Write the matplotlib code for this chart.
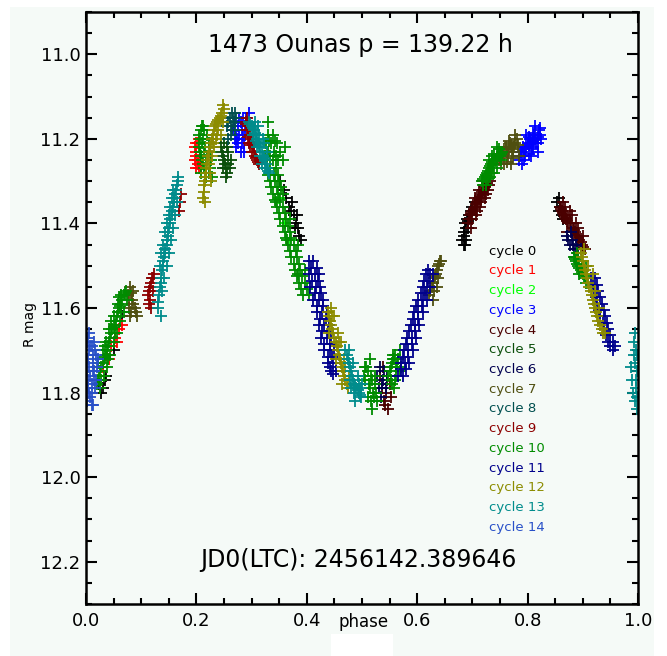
import matplotlib
matplotlib.use("Agg")
import matplotlib.pyplot as plt
from matplotlib.patches import Rectangle
from matplotlib.ticker import MultipleLocator

plt.rcParams["font.family"] = "DejaVu Sans"

title = "1473 Ounas p = 139.22 h"
epoch_text = "JD0(LTC): 2456142.389646"
cycle_labels = ["cycle %d" % i for i in range(15)]
cycle_colors = ["#000000", "#ff0000", "#00ff00", "#0000ff", "#4b0000",
                "#0b4f0b", "#000050", "#4f4f10", "#004f4f", "#8c0000",
                "#008c00", "#00008c", "#8c8c00", "#008c8c", "#2850c8"]

# (phase, R mag), one list per cycle
cycle0 = [(0.024, 11.78), (0.030, 11.79), (0.034, 11.77), (0.028, 11.80), (0.036, 11.76),
          (0.050, 11.70), (0.065, 11.62),
          (0.352, 11.30), (0.358, 11.32), (0.362, 11.34), (0.368, 11.36), (0.372, 11.37),
          (0.376, 11.38), (0.380, 11.40), (0.384, 11.41), (0.386, 11.43), (0.389, 11.44),
          (0.374, 11.35), (0.382, 11.38), (0.378, 11.41),
          (0.682, 11.44), (0.684, 11.42), (0.687, 11.40), (0.690, 11.39), (0.694, 11.38),
          (0.698, 11.37), (0.686, 11.45), (0.692, 11.41), (0.700, 11.36), (0.705, 11.35),
          (0.684, 11.43), (0.688, 11.41), (0.692, 11.395), (0.696, 11.38), (0.688, 11.44),
          (0.684, 11.45),
          (0.854, 11.35), (0.856, 11.37), (0.859, 11.36), (0.862, 11.38), (0.865, 11.39),
          (0.857, 11.34)]
cycle1 = [(0.030, 11.74), (0.038, 11.71), (0.045, 11.69), (0.052, 11.67), (0.060, 11.65),
          (0.066, 11.64), (0.042, 11.72), (0.056, 11.68),
          (0.197, 11.22), (0.200, 11.24), (0.203, 11.26), (0.198, 11.25), (0.206, 11.23),
          (0.202, 11.21), (0.209, 11.27), (0.200, 11.27), (0.211, 11.25), (0.205, 11.20),
          (0.199, 11.23), (0.202, 11.25), (0.204, 11.27), (0.200, 11.21), (0.207, 11.25)]
cycle2 = [(0.360, 11.40), (0.370, 11.44), (0.350, 11.34)]
cycle3 = [(0.266, 11.18), (0.270, 11.16), (0.274, 11.20), (0.278, 11.15), (0.282, 11.18),
          (0.286, 11.21), (0.290, 11.15), (0.294, 11.17), (0.272, 11.22), (0.280, 11.23),
          (0.288, 11.19), (0.296, 11.14), (0.276, 11.17), (0.284, 11.15),
          (0.268, 11.17), (0.272, 11.19), (0.276, 11.21), (0.280, 11.16), (0.284, 11.19),
          (0.288, 11.17), (0.292, 11.16), (0.278, 11.19), (0.286, 11.23), (0.270, 11.20),
          (0.282, 11.21),
          (0.784, 11.25), (0.788, 11.23), (0.792, 11.22), (0.796, 11.24), (0.800, 11.21),
          (0.804, 11.20), (0.808, 11.22), (0.812, 11.19), (0.816, 11.21), (0.820, 11.18),
          (0.824, 11.20), (0.790, 11.26), (0.798, 11.19), (0.806, 11.24), (0.814, 11.17),
          (0.818, 11.23), (0.786, 11.24), (0.790, 11.23), (0.794, 11.225), (0.798, 11.22),
          (0.802, 11.215), (0.806, 11.21), (0.810, 11.205), (0.814, 11.20), (0.818, 11.195),
          (0.822, 11.19), (0.794, 11.25), (0.802, 11.235), (0.810, 11.225), (0.818, 11.21),
          (0.802, 11.195), (0.810, 11.185), (0.822, 11.175)]
cycle4 = [(0.692, 11.40), (0.696, 11.38), (0.700, 11.37), (0.704, 11.36), (0.708, 11.35),
          (0.712, 11.34), (0.716, 11.33), (0.720, 11.32), (0.724, 11.31), (0.728, 11.32),
          (0.732, 11.30), (0.698, 11.41), (0.706, 11.38), (0.714, 11.36), (0.722, 11.34),
          (0.694, 11.39), (0.698, 11.375), (0.702, 11.365), (0.706, 11.355), (0.710, 11.345),
          (0.714, 11.335), (0.718, 11.325), (0.722, 11.315), (0.726, 11.305), (0.730, 11.31),
          (0.700, 11.39), (0.708, 11.37), (0.716, 11.35), (0.724, 11.33), (0.704, 11.34),
          (0.712, 11.32), (0.720, 11.30),
          (0.858, 11.36), (0.862, 11.37), (0.866, 11.38), (0.870, 11.39), (0.874, 11.40),
          (0.878, 11.40), (0.882, 11.41), (0.886, 11.42), (0.890, 11.43), (0.894, 11.44),
          (0.898, 11.45), (0.904, 11.46), (0.868, 11.36), (0.880, 11.38), (0.892, 11.41),
          (0.872, 11.42), (0.860, 11.365), (0.864, 11.375), (0.868, 11.385), (0.872, 11.395),
          (0.876, 11.40), (0.884, 11.415), (0.888, 11.425), (0.892, 11.435), (0.896, 11.445),
          (0.900, 11.455), (0.864, 11.35), (0.876, 11.37), (0.888, 11.40), (0.900, 11.43),
          (0.532, 11.76), (0.536, 11.79), (0.540, 11.82), (0.544, 11.80), (0.548, 11.84),
          (0.538, 11.74), (0.546, 11.77), (0.552, 11.81), (0.542, 11.83), (0.550, 11.78)]
cycle5 = [(0.244, 11.22), (0.248, 11.24), (0.252, 11.26), (0.256, 11.28), (0.250, 11.21),
          (0.258, 11.23), (0.262, 11.25), (0.254, 11.29), (0.260, 11.27),
          (0.246, 11.23), (0.250, 11.25), (0.254, 11.27), (0.258, 11.26), (0.248, 11.27),
          (0.256, 11.22)]
cycle6 = [(0.528, 11.76), (0.532, 11.74), (0.536, 11.78), (0.540, 11.75), (0.544, 11.79),
          (0.534, 11.81), (0.546, 11.76), (0.530, 11.79), (0.538, 11.77),
          (0.872, 11.43), (0.876, 11.45), (0.880, 11.44), (0.884, 11.46), (0.888, 11.45),
          (0.892, 11.47), (0.878, 11.42), (0.886, 11.48), (0.896, 11.46),
          (0.874, 11.44), (0.882, 11.45), (0.890, 11.46)]
cycle7 = [(0.076, 11.57), (0.080, 11.55), (0.084, 11.58), (0.088, 11.60), (0.092, 11.62),
          (0.082, 11.61), (0.078, 11.60), (0.086, 11.56), (0.078, 11.58), (0.082, 11.565),
          (0.086, 11.59), (0.090, 11.61), (0.080, 11.62),
          (0.622, 11.57), (0.626, 11.55), (0.630, 11.53), (0.634, 11.52), (0.638, 11.50),
          (0.642, 11.49), (0.628, 11.58), (0.636, 11.55), (0.624, 11.56), (0.628, 11.54),
          (0.632, 11.525), (0.636, 11.51), (0.640, 11.495), (0.630, 11.56), (0.638, 11.53),
          (0.644, 11.49),
          (0.748, 11.25), (0.752, 11.24), (0.756, 11.23), (0.760, 11.22), (0.764, 11.24),
          (0.768, 11.21), (0.772, 11.23), (0.776, 11.22), (0.780, 11.20), (0.784, 11.24),
          (0.758, 11.26), (0.770, 11.26), (0.750, 11.245), (0.754, 11.235), (0.758, 11.225),
          (0.762, 11.23), (0.766, 11.225), (0.770, 11.215), (0.774, 11.225), (0.778, 11.21),
          (0.782, 11.215), (0.752, 11.26), (0.762, 11.255), (0.774, 11.245), (0.766, 11.205),
          (0.778, 11.19)]
cycle8 = [(0.256, 11.17), (0.260, 11.15), (0.264, 11.14), (0.268, 11.16), (0.272, 11.15),
          (0.262, 11.19), (0.258, 11.20), (0.270, 11.18), (0.258, 11.16), (0.262, 11.17),
          (0.266, 11.15), (0.270, 11.14), (0.264, 11.18)]
cycle9 = [(0.112, 11.57), (0.116, 11.55), (0.120, 11.53), (0.124, 11.52), (0.114, 11.59),
          (0.118, 11.60), (0.122, 11.56), (0.114, 11.56), (0.118, 11.54), (0.122, 11.53),
          (0.116, 11.58), (0.170, 11.35), (0.172, 11.33), (0.168, 11.37),
          (0.289, 11.16), (0.292, 11.15), (0.295, 11.17), (0.298, 11.19), (0.301, 11.21),
          (0.304, 11.22), (0.307, 11.24), (0.310, 11.25), (0.314, 11.26), (0.296, 11.21),
          (0.300, 11.23), (0.290, 11.165), (0.293, 11.17), (0.296, 11.18), (0.299, 11.20),
          (0.302, 11.215), (0.305, 11.23), (0.308, 11.245), (0.312, 11.255), (0.294, 11.195),
          (0.298, 11.215), (0.292, 11.18)]
cycle10 = [(0.020, 11.78), (0.024, 11.76), (0.028, 11.74), (0.032, 11.72), (0.036, 11.71),
           (0.040, 11.69), (0.044, 11.67), (0.048, 11.65), (0.052, 11.64), (0.056, 11.62),
           (0.060, 11.60), (0.064, 11.59), (0.068, 11.57), (0.072, 11.56), (0.026, 11.79),
           (0.032, 11.76), (0.038, 11.74), (0.044, 11.71), (0.050, 11.68), (0.056, 11.66),
           (0.062, 11.63), (0.068, 11.61), (0.074, 11.58), (0.022, 11.73), (0.030, 11.70),
           (0.036, 11.68), (0.042, 11.65), (0.050, 11.62), (0.058, 11.59), (0.064, 11.57),
           (0.022, 11.77), (0.026, 11.75), (0.030, 11.73), (0.034, 11.715), (0.038, 11.70),
           (0.042, 11.68), (0.046, 11.66), (0.050, 11.645), (0.054, 11.63), (0.058, 11.61),
           (0.062, 11.595), (0.066, 11.58), (0.070, 11.565), (0.028, 11.77), (0.040, 11.72),
           (0.052, 11.66), (0.064, 11.61), (0.034, 11.69), (0.046, 11.63), (0.060, 11.575),
           (0.204, 11.19), (0.208, 11.18), (0.212, 11.20), (0.216, 11.22), (0.220, 11.24),
           (0.224, 11.27), (0.228, 11.29), (0.206, 11.23), (0.210, 11.25), (0.214, 11.27),
           (0.218, 11.29), (0.222, 11.21), (0.208, 11.28), (0.226, 11.25), (0.212, 11.17),
           (0.206, 11.20), (0.210, 11.21), (0.214, 11.23), (0.218, 11.25), (0.222, 11.28),
           (0.204, 11.22), (0.208, 11.24), (0.212, 11.26), (0.216, 11.28), (0.220, 11.19),
           (0.224, 11.23), (0.214, 11.18), (0.210, 11.17),
           (0.330, 11.19), (0.338, 11.19), (0.326, 11.21), (0.336, 11.21), (0.346, 11.21),
           (0.330, 11.23), (0.340, 11.23), (0.352, 11.23), (0.328, 11.25), (0.338, 11.25),
           (0.348, 11.25), (0.334, 11.27), (0.344, 11.27), (0.334, 11.30), (0.342, 11.30),
           (0.350, 11.30), (0.338, 11.33), (0.348, 11.33), (0.356, 11.33), (0.346, 11.36),
           (0.356, 11.36), (0.352, 11.39), (0.362, 11.39), (0.370, 11.39), (0.360, 11.42),
           (0.370, 11.42), (0.366, 11.45), (0.376, 11.45), (0.384, 11.45), (0.372, 11.48),
           (0.382, 11.48), (0.378, 11.51), (0.388, 11.51), (0.396, 11.51), (0.386, 11.54),
           (0.396, 11.54), (0.394, 11.57), (0.404, 11.57), (0.360, 11.22), (0.356, 11.25),
           (0.330, 11.16), (0.332, 11.205), (0.342, 11.205), (0.334, 11.24), (0.344, 11.24),
           (0.324, 11.24), (0.330, 11.285), (0.340, 11.285), (0.348, 11.285), (0.336, 11.315),
           (0.346, 11.315), (0.354, 11.315), (0.342, 11.345), (0.352, 11.345), (0.350, 11.375),
           (0.360, 11.375), (0.356, 11.405), (0.366, 11.405), (0.362, 11.435), (0.372, 11.435),
           (0.370, 11.465), (0.380, 11.465), (0.376, 11.495), (0.386, 11.495), (0.382, 11.525),
           (0.392, 11.525), (0.390, 11.555), (0.400, 11.555), (0.344, 11.35), (0.364, 11.44),
           (0.384, 11.52),
           (0.504, 11.76), (0.508, 11.74), (0.512, 11.78), (0.516, 11.76), (0.520, 11.80),
           (0.524, 11.78), (0.528, 11.82), (0.510, 11.81), (0.518, 11.84), (0.514, 11.72),
           (0.506, 11.77), (0.510, 11.75), (0.514, 11.79), (0.518, 11.77), (0.522, 11.81),
           (0.526, 11.80), (0.506, 11.74), (0.516, 11.82), (0.524, 11.76),
           (0.548, 11.76), (0.552, 11.74), (0.556, 11.72), (0.560, 11.71), (0.564, 11.73),
           (0.568, 11.70), (0.554, 11.78), (0.562, 11.76), (0.570, 11.74), (0.558, 11.79),
           (0.550, 11.75), (0.554, 11.73), (0.558, 11.72), (0.562, 11.74), (0.566, 11.72),
           (0.552, 11.77), (0.560, 11.77), (0.568, 11.75), (0.556, 11.71),
           (0.718, 11.30), (0.722, 11.29), (0.726, 11.28), (0.730, 11.27), (0.734, 11.26),
           (0.738, 11.26), (0.742, 11.25), (0.746, 11.24), (0.750, 11.24), (0.754, 11.23),
           (0.724, 11.31), (0.732, 11.29), (0.740, 11.28), (0.736, 11.24), (0.744, 11.22),
           (0.720, 11.295), (0.724, 11.285), (0.728, 11.275), (0.732, 11.265), (0.736, 11.255),
           (0.740, 11.25), (0.744, 11.245), (0.748, 11.235), (0.752, 11.235), (0.720, 11.31),
           (0.728, 11.295), (0.736, 11.28), (0.744, 11.27), (0.752, 11.25), (0.730, 11.25),
           (0.740, 11.235), (0.748, 11.225),
           (0.884, 11.48), (0.888, 11.49), (0.892, 11.50), (0.896, 11.51), (0.900, 11.52),
           (0.904, 11.53), (0.890, 11.47), (0.898, 11.49), (0.906, 11.50), (0.910, 11.54),
           (0.886, 11.485), (0.890, 11.495), (0.894, 11.505), (0.898, 11.515), (0.902, 11.525),
           (0.892, 11.48), (0.900, 11.50), (0.894, 11.52), (0.906, 11.54)]
cycle11 = [(0.404, 11.49), (0.412, 11.49), (0.404, 11.52), (0.414, 11.52), (0.422, 11.52),
           (0.406, 11.55), (0.416, 11.55), (0.424, 11.55), (0.412, 11.58), (0.422, 11.58),
           (0.430, 11.58), (0.418, 11.61), (0.428, 11.61), (0.436, 11.61), (0.422, 11.64),
           (0.432, 11.64), (0.440, 11.64), (0.426, 11.67), (0.436, 11.67), (0.444, 11.67),
           (0.432, 11.70), (0.442, 11.70), (0.450, 11.70), (0.438, 11.73), (0.448, 11.73),
           (0.444, 11.75), (0.452, 11.75), (0.408, 11.505), (0.418, 11.505), (0.410, 11.535),
           (0.420, 11.535), (0.414, 11.565), (0.426, 11.565), (0.418, 11.595), (0.430, 11.595),
           (0.424, 11.625), (0.434, 11.625), (0.428, 11.655), (0.438, 11.655), (0.432, 11.685),
           (0.442, 11.685), (0.438, 11.715), (0.446, 11.715), (0.442, 11.74), (0.448, 11.755),
           (0.566, 11.76), (0.574, 11.76), (0.570, 11.73), (0.578, 11.73), (0.586, 11.73),
           (0.576, 11.70), (0.584, 11.70), (0.592, 11.70), (0.582, 11.67), (0.590, 11.67),
           (0.598, 11.67), (0.588, 11.64), (0.596, 11.64), (0.604, 11.64), (0.594, 11.61),
           (0.602, 11.61), (0.610, 11.61), (0.602, 11.58), (0.610, 11.58), (0.618, 11.58),
           (0.610, 11.55), (0.618, 11.55), (0.624, 11.55), (0.616, 11.52), (0.624, 11.52),
           (0.570, 11.745), (0.580, 11.745), (0.574, 11.715), (0.584, 11.715), (0.580, 11.685),
           (0.590, 11.685), (0.586, 11.655), (0.596, 11.655), (0.592, 11.625), (0.602, 11.625),
           (0.598, 11.595), (0.608, 11.595), (0.606, 11.565), (0.614, 11.565), (0.612, 11.535),
           (0.620, 11.535), (0.620, 11.51), (0.628, 11.52),
           (0.914, 11.53), (0.922, 11.53), (0.920, 11.56), (0.928, 11.56), (0.926, 11.59),
           (0.934, 11.59), (0.932, 11.62), (0.940, 11.62), (0.938, 11.65), (0.946, 11.65),
           (0.946, 11.68), (0.954, 11.68), (0.954, 11.70), (0.918, 11.545), (0.924, 11.575),
           (0.930, 11.605), (0.936, 11.635), (0.942, 11.665), (0.950, 11.69), (0.926, 11.545),
           (0.932, 11.575), (0.938, 11.605), (0.944, 11.635), (0.950, 11.665), (0.958, 11.69)]
cycle12 = [(0.212, 11.34), (0.214, 11.31), (0.216, 11.29), (0.218, 11.27), (0.220, 11.25),
           (0.222, 11.23), (0.226, 11.21), (0.230, 11.19), (0.234, 11.17), (0.238, 11.16),
           (0.242, 11.15), (0.246, 11.14), (0.250, 11.13), (0.236, 11.20), (0.228, 11.24),
           (0.224, 11.28), (0.240, 11.18), (0.244, 11.19), (0.232, 11.22), (0.248, 11.16),
           (0.226, 11.30), (0.248, 11.12), (0.216, 11.35), (0.213, 11.325), (0.215, 11.30),
           (0.217, 11.28), (0.219, 11.26), (0.221, 11.24), (0.224, 11.22), (0.228, 11.20),
           (0.232, 11.18), (0.236, 11.165), (0.240, 11.155), (0.244, 11.145), (0.222, 11.26),
           (0.230, 11.21), (0.238, 11.19),
           (0.438, 11.61), (0.442, 11.63), (0.446, 11.65), (0.450, 11.67), (0.454, 11.69),
           (0.458, 11.71), (0.462, 11.73), (0.466, 11.75), (0.470, 11.77), (0.474, 11.79),
           (0.444, 11.60), (0.450, 11.62), (0.456, 11.66), (0.462, 11.68), (0.468, 11.72),
           (0.440, 11.66), (0.452, 11.72), (0.464, 11.78), (0.476, 11.76), (0.440, 11.62),
           (0.444, 11.64), (0.448, 11.66), (0.452, 11.68), (0.456, 11.70), (0.460, 11.72),
           (0.464, 11.74), (0.468, 11.76), (0.472, 11.78), (0.446, 11.62), (0.458, 11.68),
           (0.470, 11.74),
           (0.896, 11.47), (0.900, 11.49), (0.904, 11.51), (0.908, 11.53), (0.912, 11.55),
           (0.916, 11.57), (0.920, 11.59), (0.924, 11.61), (0.928, 11.63), (0.934, 11.65),
           (0.940, 11.66), (0.902, 11.46), (0.910, 11.50), (0.918, 11.52), (0.922, 11.56),
           (0.930, 11.60), (0.898, 11.48), (0.902, 11.50), (0.906, 11.52), (0.910, 11.54),
           (0.914, 11.56), (0.918, 11.58), (0.922, 11.60), (0.926, 11.62), (0.932, 11.64),
           (0.936, 11.66)]
cycle13 = [(0.130, 11.60), (0.132, 11.57), (0.134, 11.55), (0.136, 11.53), (0.138, 11.51),
           (0.140, 11.49), (0.143, 11.47), (0.146, 11.45), (0.148, 11.43), (0.150, 11.41),
           (0.153, 11.39), (0.156, 11.37), (0.159, 11.35), (0.162, 11.33), (0.165, 11.31),
           (0.167, 11.29), (0.138, 11.56), (0.142, 11.53), (0.146, 11.50), (0.150, 11.47),
           (0.154, 11.44), (0.158, 11.41), (0.162, 11.38), (0.134, 11.50), (0.140, 11.45),
           (0.146, 11.40), (0.152, 11.36), (0.158, 11.32), (0.164, 11.35), (0.136, 11.62),
           (0.131, 11.585), (0.135, 11.54), (0.139, 11.50), (0.141, 11.48), (0.144, 11.46),
           (0.147, 11.44), (0.149, 11.42), (0.152, 11.40), (0.155, 11.38), (0.157, 11.36),
           (0.160, 11.34), (0.163, 11.32), (0.166, 11.30), (0.144, 11.42), (0.150, 11.38),
           (0.156, 11.34), (0.136, 11.47),
           (0.296, 11.16), (0.300, 11.17), (0.304, 11.18), (0.308, 11.19), (0.312, 11.21),
           (0.316, 11.22), (0.320, 11.24), (0.324, 11.25), (0.328, 11.27), (0.332, 11.28),
           (0.306, 11.16), (0.314, 11.19), (0.322, 11.21), (0.318, 11.26), (0.310, 11.22),
           (0.298, 11.165), (0.302, 11.175), (0.306, 11.185), (0.310, 11.20), (0.314, 11.215),
           (0.318, 11.23), (0.322, 11.245), (0.326, 11.26), (0.330, 11.275), (0.302, 11.19),
           (0.308, 11.205), (0.316, 11.24), (0.324, 11.27), (0.312, 11.17), (0.320, 11.20),
           (0.328, 11.23),
           (0.470, 11.70), (0.474, 11.72), (0.478, 11.74), (0.482, 11.76), (0.486, 11.78),
           (0.490, 11.79), (0.494, 11.80), (0.498, 11.81), (0.476, 11.70), (0.484, 11.73),
           (0.492, 11.76), (0.500, 11.78), (0.480, 11.79), (0.488, 11.82), (0.472, 11.71),
           (0.476, 11.73), (0.480, 11.75), (0.484, 11.77), (0.488, 11.785), (0.492, 11.795),
           (0.496, 11.805), (0.478, 11.77), (0.486, 11.80), (0.494, 11.78), (0.498, 11.79),
           (0.992, 11.68), (0.996, 11.70), (0.994, 11.73), (0.998, 11.75), (0.990, 11.77),
           (0.996, 11.79), (0.994, 11.82), (0.998, 11.84), (0.988, 11.74), (0.999, 11.71),
           (0.993, 11.71), (0.997, 11.77), (0.991, 11.80), (0.995, 11.66), (0.999, 11.81)]
cycle14 = [(0.002, 11.68), (0.006, 11.70), (0.010, 11.69), (0.004, 11.72), (0.012, 11.73),
           (0.018, 11.71), (0.002, 11.75), (0.008, 11.76), (0.015, 11.75), (0.020, 11.74),
           (0.004, 11.79), (0.010, 11.78), (0.016, 11.79), (0.002, 11.82), (0.008, 11.81),
           (0.013, 11.83), (0.006, 11.66), (0.014, 11.68), (0.022, 11.72), (0.018, 11.77),
           (0.001, 11.80), (0.011, 11.80), (0.004, 11.67), (0.008, 11.69), (0.012, 11.71),
           (0.006, 11.74), (0.014, 11.77), (0.006, 11.80), (0.010, 11.83), (0.016, 11.70),
           (0.003, 11.77), (0.012, 11.75)]

cycles = [cycle0, cycle1, cycle2, cycle3, cycle4, cycle5, cycle6, cycle7,
          cycle8, cycle9, cycle10, cycle11, cycle12, cycle13, cycle14]

bg = "#f5faf7"
W, H = 667, 656
fig = plt.figure(figsize=(W / 100, H / 100), dpi=100, facecolor="white")
fig.patches.append(Rectangle((10 / W, 0), 644 / W, 649 / H, transform=fig.transFigure,
                             facecolor=bg, edgecolor="none", zorder=-2))
fig.patches.append(Rectangle((331 / W, 0), 62 / W, 22 / H, transform=fig.transFigure,
                             facecolor="white", edgecolor="none", zorder=-1))

ax = fig.add_axes([86 / W, 52 / H, 552 / W, 592 / H])
ax.set_facecolor(bg)

for pts, col in zip(cycles, cycle_colors):
    ph = [p[0] for p in pts]
    mg = [p[1] for p in pts]
    ax.plot(ph, mg, "+", color=col, ms=8, mew=1.3, linestyle="none")

ax.set_xlim(0.0, 1.0)
ax.set_ylim(12.3, 10.9)
ax.xaxis.set_major_locator(MultipleLocator(0.2))
ax.xaxis.set_minor_locator(MultipleLocator(0.05))
ax.yaxis.set_major_locator(MultipleLocator(0.2))
ax.yaxis.set_minor_locator(MultipleLocator(0.05))
ax.xaxis.set_major_formatter(plt.FormatStrFormatter("%.1f"))
ax.yaxis.set_major_formatter(plt.FormatStrFormatter("%.1f"))
ax.tick_params(which="both", direction="in", top=True, right=True, width=1.5,
               labelsize=13)
ax.tick_params(which="major", length=8)
ax.tick_params(axis="y", which="major", pad=4)
ax.tick_params(axis="x", which="major", pad=6)
ax.tick_params(which="minor", length=4.5)
for s in ax.spines.values():
    s.set_linewidth(1.8)

ax.text(0.502, -0.030, "phase", transform=ax.transAxes, ha="center", va="center",
        fontsize=12)
fig.text(30 / W, 1 - 325 / H, "R mag", rotation=90, ha="center", va="center",
         fontsize=10)

ax.text(0.498, 0.944, title, transform=ax.transAxes, ha="center", va="center",
        fontsize=17)
ax.text(0.493, 0.074, epoch_text, transform=ax.transAxes, ha="center", va="center",
        fontsize=17)

for i, (lbl, col) in enumerate(zip(cycle_labels, cycle_colors)):
    ax.text(0.730, 0.596 - i * 0.0333, lbl, transform=ax.transAxes, color=col,
            ha="left", va="center", fontsize=9.5)

fig.savefig("out.png", dpi=100, facecolor="white")
